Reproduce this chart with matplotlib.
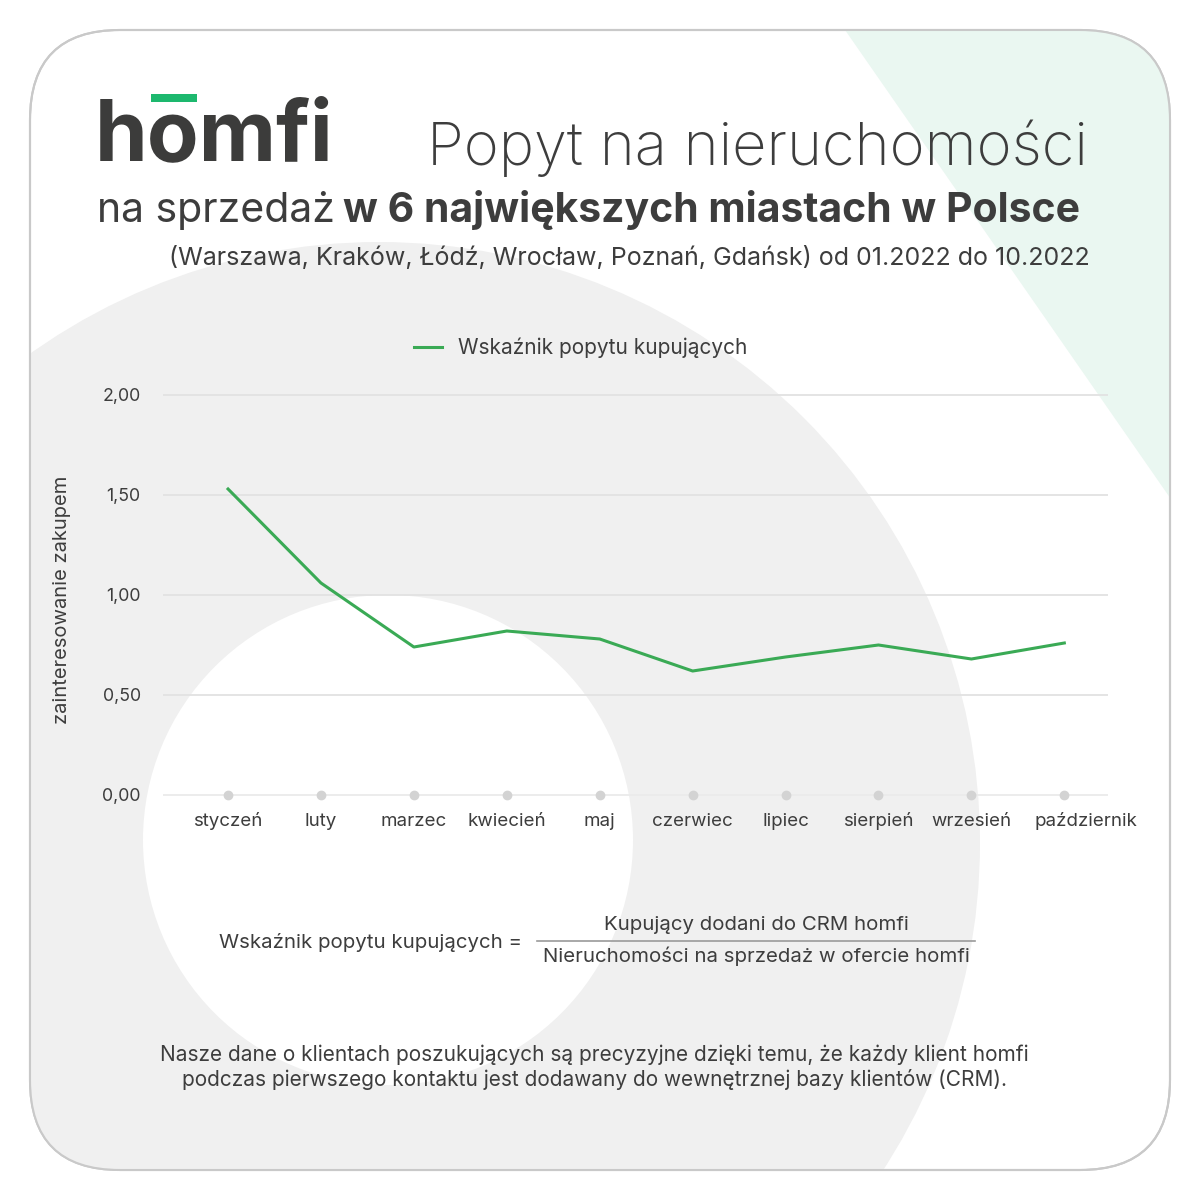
import numpy as np
import matplotlib
matplotlib.use('Agg')
import matplotlib.pyplot as plt
import matplotlib.transforms as mtransforms
from matplotlib.patches import FancyBboxPatch, Polygon, Circle, Rectangle
from matplotlib.lines import Line2D

plt.rcParams['font.family'] = ['Inter', 'DejaVu Sans']

# data
months = ['styczeń', 'luty', 'marzec', 'kwiecień', 'maj',
          'czerwiec', 'lipiec', 'sierpień', 'wrzesień', 'październik']
demand = [1.53, 1.06, 0.74, 0.82, 0.78, 0.62, 0.69, 0.75, 0.68, 0.76]
yticks = [0.0, 0.5, 1.0, 1.5, 2.0]
ytick_labels = ['0,00', '0,50', '1,00', '1,50', '2,00']
series_name = 'Wskaźnik popytu kupujących'

TXT = '#3d3d3d'
GREEN = '#3aaa55'
W = 1200.0

def px(x, y):
    return x / W, 1 - y / W

fig = plt.figure(figsize=(12, 12), dpi=100)
fig.patch.set_facecolor('white')

# background card
bg = fig.add_axes([0, 0, 1, 1])
bg.set_xlim(0, W)
bg.set_ylim(W, 0)
bg.axis('off')

card = FancyBboxPatch((30, 30), 1140, 1140, boxstyle='round,pad=0,rounding_size=90',
                      facecolor='white', edgecolor='#c9c9c9', lw=1.5, zorder=1)
bg.add_patch(card)
tri = Polygon([(845, 30), (1175, 30), (1175, 505)], closed=True,
              facecolor='#eaf7f1', edgecolor='none', zorder=2)
bg.add_patch(tri)
tri.set_clip_path(card)
ring = Circle((379, 843), 601, facecolor='#f0f0f0', edgecolor='none', zorder=2)
bg.add_patch(ring)
ring.set_clip_path(card)
hole = Circle((388, 840), 245, facecolor='white', edgecolor='none', zorder=3)
bg.add_patch(hole)
# card border on top
border = FancyBboxPatch((30, 30), 1140, 1140, boxstyle='round,pad=0,rounding_size=90',
                        facecolor='none', edgecolor='#c9c9c9', lw=1.5, zorder=4)
bg.add_patch(border)

renderer = fig.canvas.get_renderer()

# logo
logo_kw = dict(fontsize=61, fontweight='bold', color='#3c3c3b')
logo = fig.text(*px(95, 160), 'homfi', ha='left', va='baseline', **logo_kw)
t_h = fig.text(*px(95, 160), 'h', ha='left', va='baseline', **logo_kw)
t_ho = fig.text(*px(95, 160), 'ho', ha='left', va='baseline', **logo_kw)
e_h = t_h.get_window_extent(renderer)
e_ho = t_ho.get_window_extent(renderer)
t_h.remove()
t_ho.remove()
o_l = e_h.x1 + 3
o_r = e_ho.x1 - 3
bg.add_patch(Rectangle((o_l, 94), o_r - o_l, 8, facecolor='#1db86e', edgecolor='none', zorder=5))

# titles
fig.text(*px(1088, 148), 'Popyt na nieruchomości', ha='right', va='center',
         fontsize=43, fontweight='light', color=TXT)
bold = fig.text(*px(1080, 210), 'w 6 największych miastach w Polsce', ha='right', va='center',
                fontsize=29.5, fontweight='bold', color=TXT)
eb = bold.get_window_extent(renderer)
fig.text(eb.x0 / W - 0.007, 1 - 210 / W, 'na sprzedaż', ha='right', va='center',
         fontsize=29.5, color=TXT)
fig.text(*px(1090, 258), '(Warszawa, Kraków, Łódź, Wrocław, Poznań, Gdańsk) od 01.2022 do 10.2022',
         ha='right', va='center', fontsize=18, color=TXT)

# chart
x = np.arange(len(months))
left, right, top, bottom = 163, 1108, 380, 800
ax = fig.add_axes([left / W, 1 - bottom / W, (right - left) / W, (bottom - top) / W])
ax.patch.set_alpha(0)
ax.set_xlim(-0.70, 9.47)
ax.set_ylim((795 - bottom) / 200, (795 - top) / 200)
for yv in yticks[1:]:
    ax.axhline(yv, color='#e2e2e2', lw=1.3, zorder=1)
ax.axhline(0, color='#ebebeb', lw=1.3, zorder=1)
ax.scatter(x, np.zeros(len(x)), s=36, color='#d3d3d3', zorder=2)
line, = ax.plot(x, demand, color=GREEN, lw=2.2, zorder=3)
for s in ax.spines.values():
    s.set_visible(False)
ax.set_yticks(yticks)
ax.set_yticklabels(ytick_labels, fontsize=12.8, color=TXT)
ax.set_xticks(x)
ax.set_xticklabels(months, fontsize=13.5, color=TXT)
ax.tick_params(axis='y', length=0, pad=16)
ax.tick_params(axis='x', length=0, pad=9)
# nudge the last month label to the right so it clears its neighbour
last = ax.get_xticklabels()[-1]
last.set_transform(last.get_transform() + mtransforms.ScaledTranslation(22 / 100, 0, fig.dpi_scale_trans))

fig.text(*px(62, 600), 'zainteresowanie zakupem', rotation=90, ha='center', va='center',
         fontsize=14.5, color=TXT)

fig.legend([Line2D([0], [0], color=GREEN, lw=2.2)], [series_name], loc='center',
           bbox_to_anchor=px(581, 348), frameon=False, fontsize=15,
           handlelength=1.3, handletextpad=0.8, labelcolor=TXT)

# formula
fig.text(*px(522, 942), 'Wskaźnik popytu kupujących =', ha='right', va='center',
         fontsize=14.7, color=TXT)
fig.text(*px(756, 925), 'Kupujący dodani do CRM homfi', ha='center', va='center',
         fontsize=14.7, color=TXT)
fig.text(*px(756, 956), 'Nieruchomości na sprzedaż w ofercie homfi', ha='center', va='center',
         fontsize=14.7, color=TXT)
bg.plot([537, 975], [941, 941], color='#9a9a9a', lw=1.2, zorder=6)

# footer
fig.text(*px(594, 1055), 'Nasze dane o klientach poszukujących są precyzyjne dzięki temu, że każdy klient homfi',
         ha='center', va='center', fontsize=15, color=TXT)
fig.text(*px(594, 1080), 'podczas pierwszego kontaktu jest dodawany do wewnętrznej bazy klientów (CRM).',
         ha='center', va='center', fontsize=15, color=TXT)

fig.savefig('out.png', dpi=100)
